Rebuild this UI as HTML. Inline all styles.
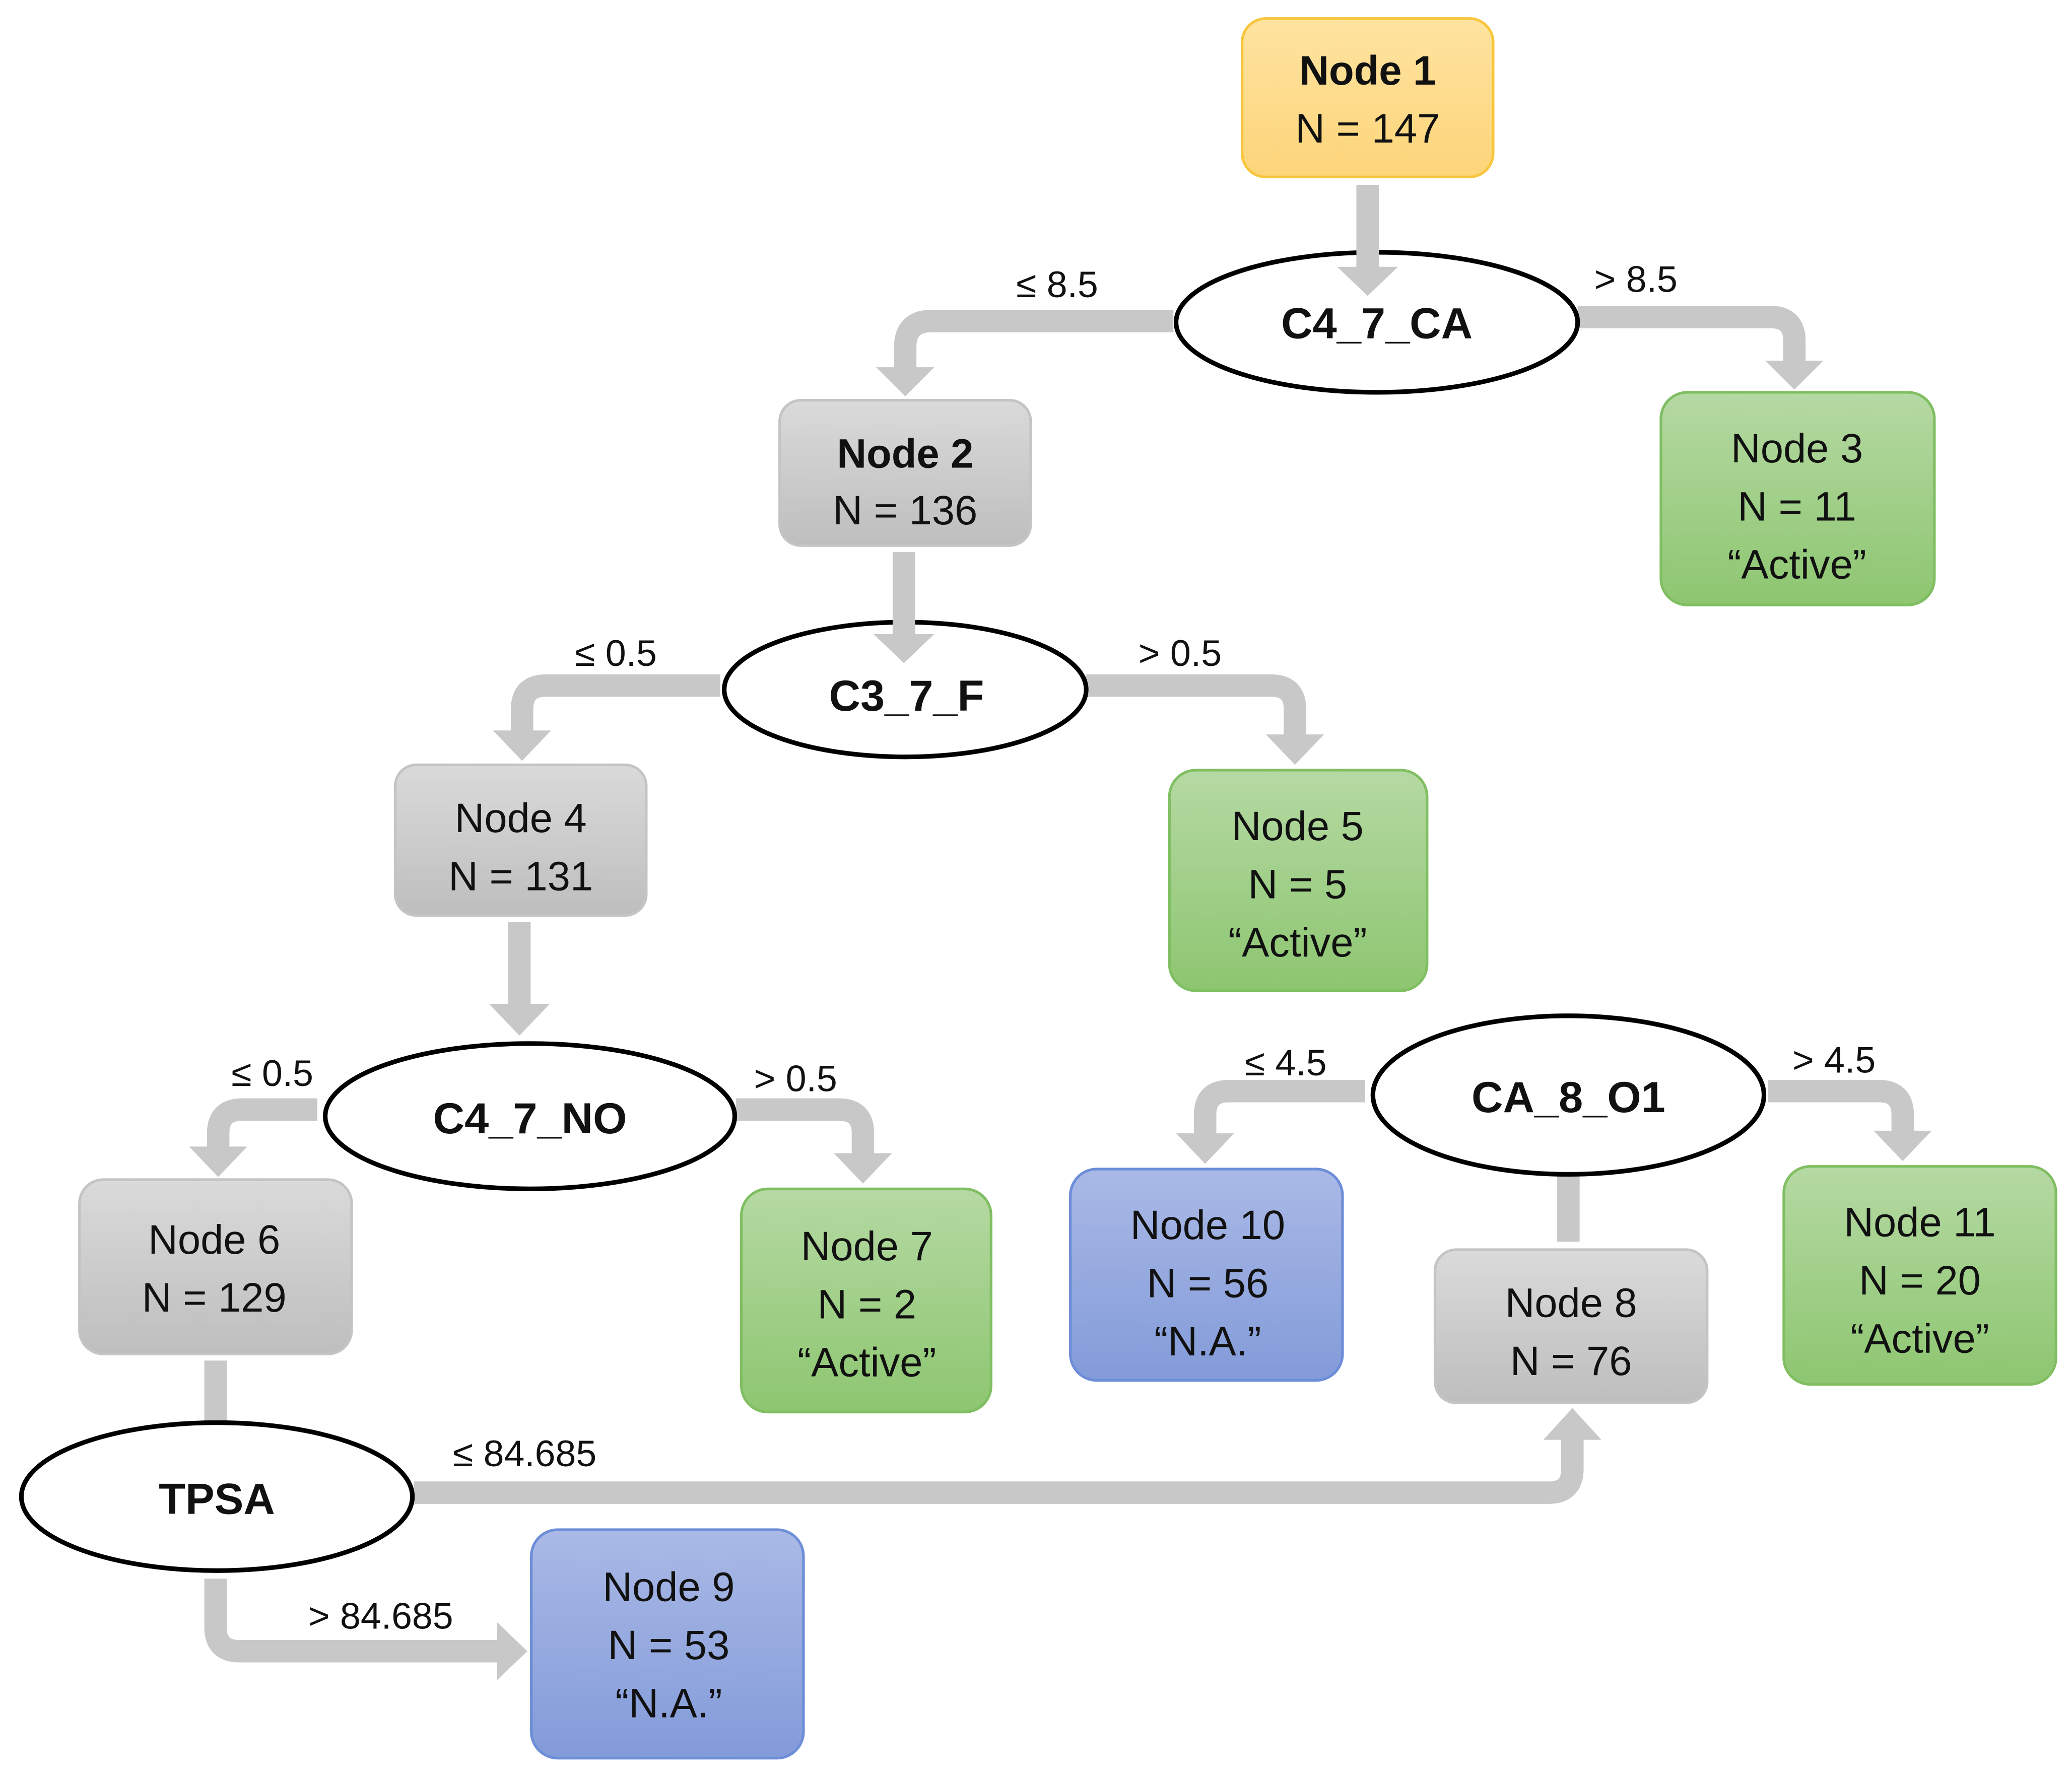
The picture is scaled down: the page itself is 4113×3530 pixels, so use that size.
<!DOCTYPE html>
<html><head><meta charset="utf-8"><style>
html,body{margin:0;padding:0;background:#fff;}
svg{display:block}
text{font-family:"Liberation Sans",sans-serif;fill:#111;text-anchor:middle}
.l{font-size:28px}
.n{font-size:31px}
.b{font-weight:bold}
.e{font-size:33px;font-weight:bold}
.a{fill:none;stroke:#c8c8c8;stroke-width:17;stroke-linejoin:round}
.h{fill:#c8c8c8}
</style></head><body>
<svg width="4113" height="3530" viewBox="0 0 1568 1346" xmlns="http://www.w3.org/2000/svg">
<defs>
<linearGradient id="gy" x1="0" y1="0" x2="0" y2="1"><stop offset="0" stop-color="#fee3a0"/><stop offset="1" stop-color="#fdd57a"/></linearGradient>
<linearGradient id="gg" x1="0" y1="0" x2="0" y2="1"><stop offset="0" stop-color="#dadada"/><stop offset="1" stop-color="#bebebe"/></linearGradient>
<linearGradient id="gn" x1="0" y1="0" x2="0" y2="1"><stop offset="0" stop-color="#b5d9a3"/><stop offset="1" stop-color="#8dc670"/></linearGradient>
<linearGradient id="gb" x1="0" y1="0" x2="0" y2="1"><stop offset="0" stop-color="#aab9e6"/><stop offset="1" stop-color="#829bd9"/></linearGradient>
</defs>
<!-- arrows -->
<path class="a" d="M1035 140 V205"/><polygon class="h" points="1012,202 1058,202 1035,224"/>
<path class="a" d="M888 243 H705 Q685 243 685 263 V280"/><polygon class="h" points="663,278 707,278 685,300"/>
<path class="a" d="M1194 240 H1340 Q1358 240 1358 258 V275"/><polygon class="h" points="1336,273 1380,273 1358,295"/>
<path class="a" d="M684 418 V482"/><polygon class="h" points="661,480 707,480 684,502"/>
<path class="a" d="M545 519 H413 Q395 519 395 537 V555"/><polygon class="h" points="373,553 417,553 395,576"/>
<path class="a" d="M822 519 H962 Q980 519 980 537 V558"/><polygon class="h" points="958,556 1002,556 980,579"/>
<path class="a" d="M393 698 V762"/><polygon class="h" points="370,760 416,760 393,784"/>
<path class="a" d="M240 840 H183 Q165 840 165 858 V870"/><polygon class="h" points="143,868 187,868 165,891"/>
<path class="a" d="M557 840 H635 Q653 840 653 858 V875"/><polygon class="h" points="631,873 675,873 653,896"/>
<path class="a" d="M163 1030 V1080"/><polygon class="h" points="140,1078 186,1078 163,1102"/>
<path class="a" d="M313 1130 H1172 Q1190 1130 1190 1112 V1088"/><polygon class="h" points="1168,1090 1212,1090 1190,1066"/>
<path class="a" d="M163 1195 V1232 Q163 1250 181 1250 H378"/><polygon class="h" points="376,1228 376,1272 399,1250"/>
<path class="a" d="M1187 940 V880"/><polygon class="h" points="1164,884 1210,884 1187,860"/>
<path class="a" d="M1033 826 H930 Q912 826 912 844 V860"/><polygon class="h" points="890,858 934,858 912,881"/>
<path class="a" d="M1338 826 H1422 Q1440 826 1440 844 V858"/><polygon class="h" points="1418,856 1462,856 1440,879"/>
<!-- nodes -->
<rect x="940" y="14" width="190" height="120" rx="18" fill="url(#gy)" stroke="#f8c63c" stroke-width="2"/>
<text class="n b" x="1035" y="64">Node 1</text><text class="n" x="1035" y="108">N = 147</text>
<rect x="590" y="303" width="190" height="110" rx="16" fill="url(#gg)" stroke="#c4c4c4" stroke-width="2"/>
<text class="n b" x="685" y="354">Node 2</text><text class="n" x="685" y="397">N = 136</text>
<rect x="1257" y="297" width="207" height="161" rx="20" fill="url(#gn)" stroke="#80be62" stroke-width="2"/>
<text class="n" x="1360" y="350">Node 3</text><text class="n" x="1360" y="394">N = 11</text><text class="n" x="1360" y="438">“Active”</text>
<rect x="299" y="579" width="190" height="114" rx="16" fill="url(#gg)" stroke="#c4c4c4" stroke-width="2"/>
<text class="n" x="394" y="630">Node 4</text><text class="n" x="394" y="674">N = 131</text>
<rect x="885" y="583" width="195" height="167" rx="20" fill="url(#gn)" stroke="#80be62" stroke-width="2"/>
<text class="n" x="982" y="636">Node 5</text><text class="n" x="982" y="680">N = 5</text><text class="n" x="982" y="724">“Active”</text>
<rect x="60" y="893" width="206" height="132" rx="18" fill="url(#gg)" stroke="#c4c4c4" stroke-width="2"/>
<text class="n" x="162" y="949">Node 6</text><text class="n" x="162" y="993">N = 129</text>
<rect x="561" y="900" width="189" height="169" rx="20" fill="url(#gn)" stroke="#80be62" stroke-width="2"/>
<text class="n" x="656" y="954">Node 7</text><text class="n" x="656" y="998">N = 2</text><text class="n" x="656" y="1042">“Active”</text>
<rect x="1086" y="946" width="206" height="116" rx="16" fill="url(#gg)" stroke="#c4c4c4" stroke-width="2"/>
<text class="n" x="1189" y="997">Node 8</text><text class="n" x="1189" y="1041">N = 76</text>
<rect x="402" y="1158" width="206" height="173" rx="20" fill="url(#gb)" stroke="#6d8dd8" stroke-width="2"/>
<text class="n" x="506" y="1212">Node 9</text><text class="n" x="506" y="1256">N = 53</text><text class="n" x="506" y="1300">“N.A.”</text>
<rect x="810" y="885" width="206" height="160" rx="20" fill="url(#gb)" stroke="#6d8dd8" stroke-width="2"/>
<text class="n" x="914" y="938">Node 10</text><text class="n" x="914" y="982">N = 56</text><text class="n" x="914" y="1026">“N.A.”</text>
<rect x="1350" y="883" width="206" height="165" rx="20" fill="url(#gn)" stroke="#80be62" stroke-width="2"/>
<text class="n" x="1453" y="936">Node 11</text><text class="n" x="1453" y="980">N = 20</text><text class="n" x="1453" y="1024">“Active”</text>
<!-- ellipses -->
<ellipse cx="1042" cy="244" rx="152" ry="53" fill="#fff" stroke="#000" stroke-width="3.5"/>
<path class="a" d="M1035 140 V205"/><polygon class="h" points="1012,202 1058,202 1035,224"/>
<text class="e" x="1042" y="256">C4_7_CA</text>
<ellipse cx="685" cy="522" rx="137" ry="51" fill="#fff" stroke="#000" stroke-width="3.5"/>
<path class="a" d="M684 418 V482"/><polygon class="h" points="661,480 707,480 684,502"/>
<text class="e" x="686" y="538">C3_7_F</text>
<ellipse cx="401" cy="845" rx="155" ry="55" fill="#fff" stroke="#000" stroke-width="3.5"/>
<text class="e" x="401" y="858">C4_7_NO</text>
<ellipse cx="164" cy="1133" rx="148" ry="56" fill="#fff" stroke="#000" stroke-width="3.5"/>
<text class="e" x="164" y="1146">TPSA</text>
<ellipse cx="1187" cy="829" rx="148" ry="60" fill="#fff" stroke="#000" stroke-width="3.5"/>
<text class="e" x="1187" y="842">CA_8_O1</text>
<!-- labels -->
<text class="l" x="800" y="225">≤ 8.5</text>
<text class="l" x="1238" y="221">&gt; 8.5</text>
<text class="l" x="466" y="504">≤ 0.5</text>
<text class="l" x="893" y="504">&gt; 0.5</text>
<text class="l" x="206" y="822">≤ 0.5</text>
<text class="l" x="602" y="826">&gt; 0.5</text>
<text class="l" x="973" y="814">≤ 4.5</text>
<text class="l" x="1388" y="812">&gt; 4.5</text>
<text class="l" x="397" y="1110">≤ 84.685</text>
<text class="l" x="288" y="1233">&gt; 84.685</text>
</svg>
</body></html>
